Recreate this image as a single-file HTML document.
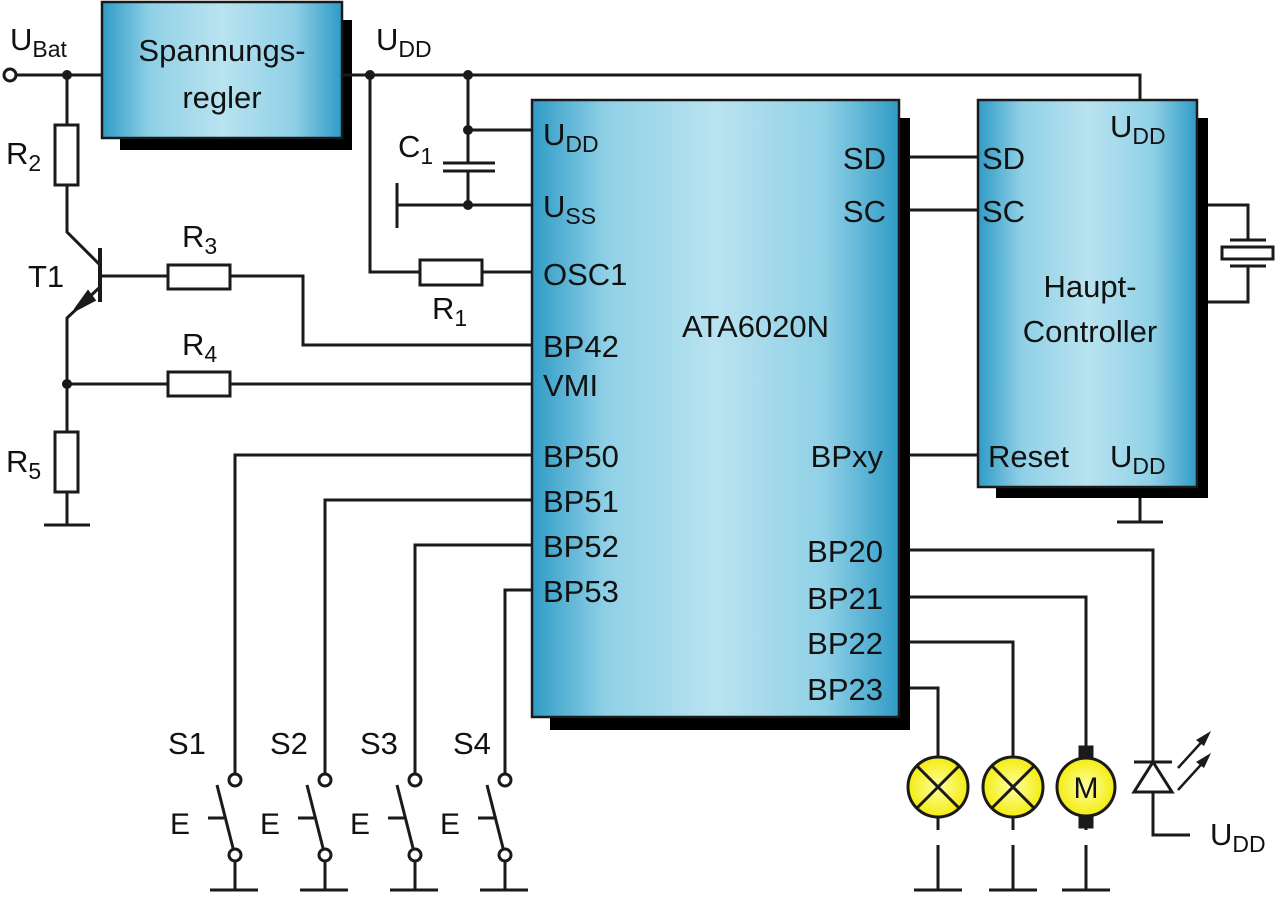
<!DOCTYPE html>
<html><head><meta charset="utf-8"><style>
html,body{margin:0;padding:0;background:#fff;width:1280px;height:901px;overflow:hidden}
svg{display:block}
text{font-family:"Liberation Sans",sans-serif;fill:#111}
</style></head><body>
<svg width="1280" height="901" viewBox="0 0 1280 901" xmlns="http://www.w3.org/2000/svg">
<defs>
<linearGradient id="g" x1="0" y1="0" x2="1" y2="0">
<stop offset="0" stop-color="#2f9bc6"/><stop offset="0.2" stop-color="#8fd0e6"/><stop offset="0.5" stop-color="#b9e3f0"/><stop offset="0.8" stop-color="#8fd0e6"/><stop offset="1" stop-color="#2f9bc6"/>
</linearGradient>
<radialGradient id="y" cx="0.5" cy="0.5" r="0.5"><stop offset="0" stop-color="#ffffa0"/><stop offset="1" stop-color="#f3ec10"/></radialGradient>
</defs>
<g stroke="#1a1a1a" stroke-width="3" fill="none">
<rect x="120" y="20" width="232" height="130" fill="#000" stroke="none"/>
<rect x="550" y="118" width="360" height="612" fill="#000" stroke="none"/>
<rect x="996" y="118" width="212" height="380" fill="#000" stroke="none"/>
<rect x="102" y="2" width="240" height="136" fill="url(#g)" stroke-width="2.5"/>
<rect x="532" y="100" width="367" height="617" fill="url(#g)" stroke-width="2.5"/>
<rect x="978" y="100" width="219" height="387" fill="url(#g)" stroke-width="2.5"/>
<line x1="16" y1="75" x2="102" y2="75"/>
<polyline points="342,75 1140,75 1140,100"/>
<circle cx="10" cy="75" r="6" fill="#fff"/>
<line x1="67" y1="75" x2="67" y2="125"/>
<rect x="55" y="125" width="23" height="60" fill="#fff"/>
<polyline points="67,185 67,232 100,265"/>
<line x1="100" y1="248" x2="100" y2="302" stroke-width="4"/>
<polyline points="100,287 67,318 67,432"/>
<polygon points="75,310 88,292 94,300" fill="#1a1a1a"/>
<rect x="55" y="432" width="23" height="60" fill="#fff"/>
<line x1="67" y1="492" x2="67" y2="525"/>
<line x1="44" y1="525" x2="90" y2="525"/>
<line x1="100" y1="276" x2="168" y2="276"/>
<rect x="168" y="265" width="62" height="24" fill="#fff"/>
<polyline points="230,276 303,276 303,345 532,345"/>
<line x1="67" y1="384" x2="168" y2="384"/>
<rect x="168" y="372" width="62" height="24" fill="#fff"/>
<line x1="230" y1="384" x2="532" y2="384"/>
<polyline points="370,75 370,272 420,272"/>
<rect x="420" y="260" width="62" height="25" fill="#fff"/>
<line x1="482" y1="272" x2="532" y2="272"/>
<polyline points="468,75 468,163"/>
<line x1="468" y1="130" x2="532" y2="130"/>
<line x1="443" y1="163" x2="495" y2="163"/>
<line x1="443" y1="171" x2="495" y2="171"/>
<line x1="468" y1="171" x2="468" y2="205"/>
<line x1="397" y1="205" x2="532" y2="205"/>
<line x1="397" y1="183" x2="397" y2="228"/>
<line x1="909" y1="157" x2="978" y2="157"/>
<line x1="909" y1="210" x2="978" y2="210"/>
<line x1="909" y1="455" x2="978" y2="455"/>
<polyline points="1208,205 1248,205 1248,240"/>
<polyline points="1208,302 1248,302 1248,267"/>
<line x1="1230" y1="240" x2="1266" y2="240"/>
<rect x="1222" y="247" width="51" height="12" fill="#fff"/>
<line x1="1230" y1="266" x2="1266" y2="266"/>
<line x1="1140" y1="498" x2="1140" y2="522"/>
<line x1="1117" y1="522" x2="1163" y2="522"/>
<polyline points="532,455 235,455 235,774"/>
<polyline points="532,500 325,500 325,774"/>
<polyline points="532,545 415,545 415,774"/>
<polyline points="532,590 505,590 505,774"/>
<polyline points="909,550 1153,550 1153,835 1190,835"/>
<polyline points="909,597 1086,597 1086,757"/>
<polyline points="909,642 1013,642 1013,757"/>
<polyline points="909,688 938,688 938,757"/>
</g>
<g fill="#1a1a1a">
<circle cx="67" cy="75" r="5"/><circle cx="370" cy="75" r="5"/><circle cx="468" cy="75" r="5"/>
<circle cx="468" cy="130" r="5"/><circle cx="468" cy="205" r="5"/><circle cx="67" cy="384" r="5"/>
</g>
<g stroke="#1a1a1a" stroke-width="3" fill="none">
<g id="sw">
<circle cx="235" cy="780" r="6" fill="#fff"/>
<circle cx="235" cy="855" r="6" fill="#fff"/>
<line x1="217" y1="785" x2="233" y2="848"/>
<line x1="208" y1="818" x2="224" y2="818"/>
<line x1="235" y1="861" x2="235" y2="890"/>
<line x1="210" y1="890" x2="258" y2="890"/>
</g>
<use href="#sw" x="90"/><use href="#sw" x="180"/><use href="#sw" x="270"/>
</g>
<g font-size="30"><text x="170" y="834">E</text><text x="260" y="834">E</text><text x="350" y="834">E</text><text x="440" y="834">E</text></g>
<g stroke="#1a1a1a" stroke-width="3" fill="none">
<circle cx="938" cy="787" r="30" fill="url(#y)"/>
<line x1="917" y1="766" x2="959" y2="808"/><line x1="959" y1="766" x2="917" y2="808"/>
<circle cx="1013" cy="787" r="30" fill="url(#y)"/>
<line x1="992" y1="766" x2="1034" y2="808"/><line x1="1034" y1="766" x2="992" y2="808"/>
<circle cx="1086" cy="787" r="29" fill="url(#y)"/>
<rect x="1080" y="747" width="12" height="9" fill="#1a1a1a"/>
<rect x="1080" y="818" width="12" height="9" fill="#1a1a1a"/>
<g id="gnd"><line x1="938" y1="817" x2="938" y2="830"/><line x1="938" y1="845" x2="938" y2="890"/><line x1="914" y1="890" x2="962" y2="890"/></g>
<use href="#gnd" x="75"/><use href="#gnd" x="148"/>
<polygon points="1153,762 1134,792 1172,792" fill="#fff"/>
<line x1="1134" y1="762" x2="1172" y2="762"/>
<line x1="1178" y1="768" x2="1208" y2="735" stroke-width="2.5"/>
<line x1="1178" y1="790" x2="1208" y2="757" stroke-width="2.5"/>
</g>
<polygon points="1211,731 1196,740 1204,746" fill="#1a1a1a"/>
<polygon points="1211,753 1196,762 1204,768" fill="#1a1a1a"/>
<text x="1086" y="798" font-size="30" text-anchor="middle">M</text>
<g font-size="31">
<text x="10" y="50">U<tspan font-size="23" dy="7">Bat</tspan></text>
<text x="222" y="61" text-anchor="middle">Spannungs-</text>
<text x="222" y="108" text-anchor="middle">regler</text>
<text x="376" y="50">U<tspan font-size="23" dy="7">DD</tspan></text>
<text x="6" y="164">R<tspan font-size="23" dy="7">2</tspan></text>
<text x="28" y="287">T1</text>
<text x="182" y="247">R<tspan font-size="23" dy="7">3</tspan></text>
<text x="182" y="355">R<tspan font-size="23" dy="7">4</tspan></text>
<text x="6" y="472">R<tspan font-size="23" dy="7">5</tspan></text>
<text x="398" y="157">C<tspan font-size="23" dy="7">1</tspan></text>
<text x="432" y="319">R<tspan font-size="23" dy="7">1</tspan></text>
<text x="543" y="145">U<tspan font-size="23" dy="7">DD</tspan></text>
<text x="543" y="217">U<tspan font-size="23" dy="7">SS</tspan></text>
<text x="543" y="285">OSC1</text>
<text x="543" y="357">BP42</text>
<text x="543" y="396">VMI</text>
<text x="543" y="467">BP50</text>
<text x="543" y="512">BP51</text>
<text x="543" y="557">BP52</text>
<text x="543" y="602">BP53</text>
<text x="682" y="337">ATA6020N</text>
<text x="886" y="169" text-anchor="end">SD</text>
<text x="886" y="222" text-anchor="end">SC</text>
<text x="883" y="467" text-anchor="end">BPxy</text>
<text x="883" y="562" text-anchor="end">BP20</text>
<text x="883" y="609" text-anchor="end">BP21</text>
<text x="883" y="654" text-anchor="end">BP22</text>
<text x="883" y="700" text-anchor="end">BP23</text>
<text x="982" y="169">SD</text>
<text x="982" y="222">SC</text>
<text x="1110" y="137">U<tspan font-size="23" dy="7">DD</tspan></text>
<text x="1090" y="297" text-anchor="middle">Haupt-</text>
<text x="1090" y="342" text-anchor="middle">Controller</text>
<text x="988" y="467">Reset</text>
<text x="1110" y="467">U<tspan font-size="23" dy="7">DD</tspan></text>
<text x="168" y="754">S1</text><text x="270" y="754">S2</text><text x="360" y="754">S3</text><text x="453" y="754">S4</text>
<text x="1210" y="845">U<tspan font-size="23" dy="7">DD</tspan></text>
</g>
</svg>
</body></html>
